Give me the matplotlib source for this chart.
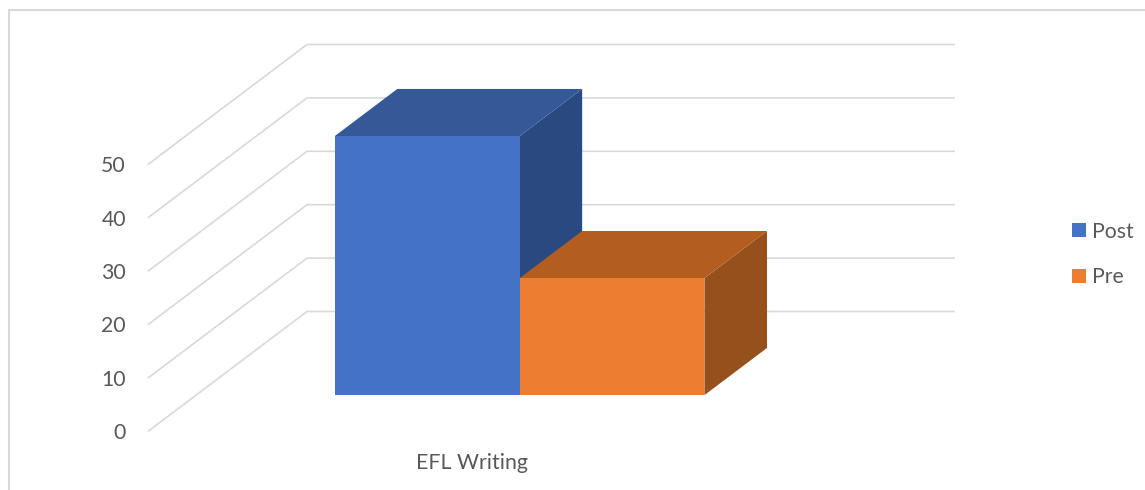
import matplotlib
matplotlib.use('Agg')
import matplotlib.pyplot as plt
from matplotlib.patches import Patch, Polygon

# values
category = 'EFL Writing'
series = ['Post', 'Pre']
values = [48.5, 21.9]
face_colors = ['#4472C4', '#ED7D31']
top_colors = ['#355897', '#B35D21']
side_colors = ['#2A4980', '#96501B']
ticks = [0, 10, 20, 30, 40, 50]

# oblique projection of the excel style 3d plot, all in pixels of the figure
W, H = 1145, 490
PX_PER_UNIT = 5.34
FLOOR_Y = 431            # pixel row of value 0 on the front edge
FRONT_X = 148.5
FLOOR_WIDTH = 647
DX, DY = 158.5, 119.5    # shift from front edge to back wall
GAP = 0.75               # gap width, as share of one bar
BAR_DEPTH = (0.30, 0.695)


def project(x, value, depth):
    # x along the floor (0-1 is the whole slot), depth 0 front, 1 back
    px = FRONT_X + x * FLOOR_WIDTH + depth * DX
    py = value + depth * DY / PX_PER_UNIT
    return px, py


fig = plt.figure(figsize=(W / 100, H / 100), dpi=100)
ax = fig.add_axes([0, 0, 1, 1])
ax.set_xlim(0, W)
ax.set_ylim(-(H - FLOOR_Y) / PX_PER_UNIT, FLOOR_Y / PX_PER_UNIT)
ax.axis('off')

plt.rcParams['font.family'] = ['Lato', 'DejaVu Sans']
text_color = '#595959'
grid_color = '#D9D9D9'
font_size = 15.3

# chart frame, cut by the edge of the screenshot on the right and at the bottom
top_edge = ax.get_ylim()[1] - 10.5 / PX_PER_UNIT
bottom_edge = ax.get_ylim()[0]
ax.plot([9, 9, W], [bottom_edge, top_edge, top_edge], color=grid_color, lw=1.5)

# gridlines: slanted on the side wall, flat on the back wall
for t in ticks:
    p0 = project(0, t, 0)
    p1 = project(0, t, 1)
    p2 = project(1, t, 1)
    ax.plot([p0[0], p1[0], p2[0]], [p0[1], p1[1], p2[1]], color=grid_color, lw=1.2,
            solid_joinstyle='miter', zorder=1)
    ax.text(126, t - 0.4, str(t), ha='right', va='center', fontsize=font_size, color=text_color)

# bars
bar_w = 1 / (len(values) + GAP * 2) * 1.0
d0, d1 = BAR_DEPTH
for i, v in enumerate(values):
    x0 = (GAP + i) * bar_w
    x1 = x0 + bar_w
    front = [project(x0, 0, d0), project(x1, 0, d0), project(x1, v, d0), project(x0, v, d0)]
    top = [project(x0, v, d0), project(x1, v, d0), project(x1, v, d1), project(x0, v, d1)]
    side = [project(x1, 0, d0), project(x1, 0, d1), project(x1, v, d1), project(x1, v, d0)]
    z = 3 + i
    ax.add_patch(Polygon(side, closed=True, fc=side_colors[i], ec='none', zorder=z))
    ax.add_patch(Polygon(top, closed=True, fc=top_colors[i], ec='none', zorder=z))
    ax.add_patch(Polygon(front, closed=True, fc=face_colors[i], ec='none', zorder=z))

ax.text(472, -(463 - FLOOR_Y) / PX_PER_UNIT, category, ha='center', va='center',
        fontsize=font_size, color=text_color)

handles = [Patch(fc=c, ec='none') for c in face_colors]
ax.legend(handles, series, loc='center left', bbox_to_anchor=(1072 / W, 1 - 254.5 / H),
          frameon=False, fontsize=font_size, labelcolor=text_color, handlelength=0.65,
          handleheight=0.65, handletextpad=0.3, labelspacing=1.2, borderpad=0, borderaxespad=0)

fig.savefig('out.png', dpi=100, facecolor='white')
